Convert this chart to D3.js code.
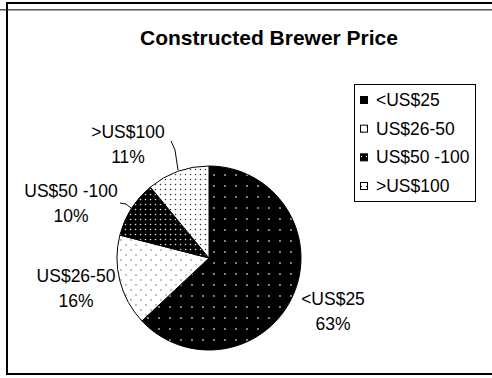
<!DOCTYPE html>
<html>
<head>
<meta charset="utf-8">
<script src="https://cdn.jsdelivr.net/npm/d3@7"></script>
<style>
  html, body { margin: 0; padding: 0; background: #fff; }
  svg { display: block; }
  text { font-family: "Liberation Sans", Arial, sans-serif; fill: #000; }
</style>
</head>
<body>
<svg id="chart" width="492" height="378"></svg>
<script>
// Price bands and their shares (%)
const categories = ["<US$25", "US$26-50", "US$50 -100", ">US$100"];
const shares = [63, 16, 10, 11];
const percentLabels = ["63%", "16%", "10%", "11%"];
const title = "Constructed Brewer Price";

const svg = d3.select("#chart");
const defs = svg.append("defs");

// Fill patterns, one per band
function dotPattern(id, size, bg, dotColor, r, dots) {
  const p = defs.append("pattern")
    .attr("id", id).attr("patternUnits", "userSpaceOnUse")
    .attr("width", size).attr("height", size);
  p.append("rect").attr("width", size).attr("height", size).attr("fill", bg);
  dots.forEach(([x, y]) => p.append("circle").attr("cx", x).attr("cy", y).attr("r", r).attr("fill", dotColor));
}
dotPattern("p0", 11, "#000", "#bbb", 0.9, [[5, 5]]);
dotPattern("p1", 10, "#fff", "#555", 0.7, [[2, 2], [7, 7]]);
dotPattern("p2", 5, "#000", "#ddd", 0.8, [[1.5, 1.5]]);
dotPattern("p3", 5, "#fff", "#333", 0.75, [[1.5, 1.5]]);
const fills = ["url(#p0)", "url(#p1)", "url(#p2)", "url(#p3)"];

// Frame lines
svg.append("line").attr("x1", 0).attr("x2", 492).attr("y1", 9.8).attr("y2", 9.8)
  .attr("stroke", "#555").attr("stroke-width", 1.6);
svg.append("line").attr("x1", 6).attr("x2", 492).attr("y1", 3).attr("y2", 3)
  .attr("stroke", "#000").attr("stroke-width", 2);
svg.append("line").attr("x1", 7).attr("x2", 7).attr("y1", 2).attr("y2", 375)
  .attr("stroke", "#000").attr("stroke-width", 2);
svg.append("line").attr("x1", 6).attr("x2", 492).attr("y1", 374).attr("y2", 374)
  .attr("stroke", "#000").attr("stroke-width", 2);

// Title
svg.append("text").attr("x", 269).attr("y", 45).attr("text-anchor", "middle")
  .attr("font-size", 21).attr("font-weight", "bold").text(title);

// Pie
const cx = 209, cy = 258, R = 92;
const pie = d3.pie().sort(null).value(d => d)(shares);
const arc = d3.arc().innerRadius(0).outerRadius(R);
const g = svg.append("g").attr("transform", `translate(${cx},${cy})`);
g.selectAll("path").data(pie).join("path")
  .attr("d", arc)
  .attr("fill", (d, i) => fills[i])
  .attr("stroke", "#000").attr("stroke-width", 1);

// Data labels (category + percent)
const labelPos = [[333, 305], [76, 282], [71, 197], [128, 138]];
categories.forEach((c, i) => {
  const [x, y] = labelPos[i];
  const t = svg.append("text").attr("x", x).attr("y", y).attr("text-anchor", "middle").attr("font-size", 17.5);
  t.append("tspan").attr("x", x).text(c);
  t.append("tspan").attr("x", x).attr("dy", 25).text(percentLabels[i]);
});

// Leader lines
const leaders = [
  [[120, 203], [126, 204], [131, 208]],
  [[171, 141], [175, 150], [178, 170]]
];
leaders.forEach(pts => svg.append("path").attr("d", d3.line()(pts))
  .attr("fill", "none").attr("stroke", "#000").attr("stroke-width", 1));

// Legend
const legend = svg.append("g");
legend.append("rect").attr("x", 354.5).attr("y", 84.5).attr("width", 121).attr("height", 117)
  .attr("fill", "#fff").attr("stroke", "#000").attr("stroke-width", 1);
const ly = d3.scalePoint().domain(categories).range([100, 186]);
categories.forEach((c, i) => {
  legend.append("rect").attr("x", 360.5).attr("y", ly(c) - 3.5).attr("width", 7).attr("height", 7)
    .attr("fill", fills[i]).attr("stroke", "#000").attr("stroke-width", 1);
  legend.append("text").attr("x", 376).attr("y", ly(c) + 6).attr("font-size", 17.5).text(c);
});
</script>
</body>
</html>
